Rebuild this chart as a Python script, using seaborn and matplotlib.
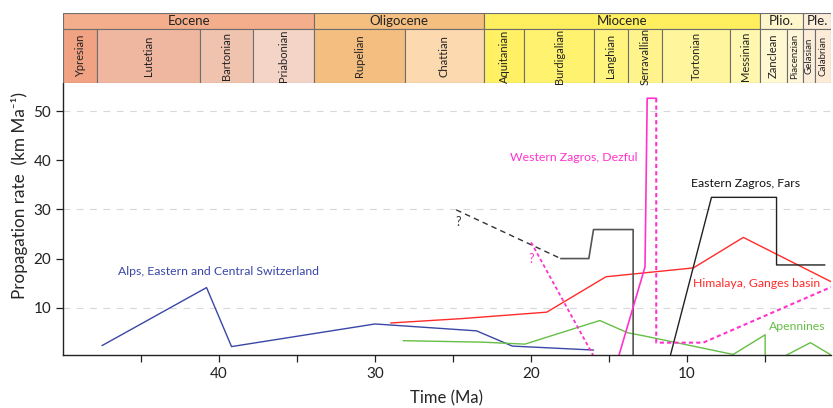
import matplotlib
matplotlib.use('Agg')
import matplotlib.pyplot as plt
import seaborn as sns
from matplotlib.patches import Rectangle

# Data (time in Ma, rate in km/Ma)
alps_t = [47.5, 40.8, 39.2, 30.0, 23.5, 21.2, 16.0]
alps_v = [2.3, 14.1, 2.1, 6.7, 5.3, 2.2, 1.4]

himalaya_t = [29.0, 24.4, 19.0, 15.2, 9.6, 6.4, 0.78]
himalaya_v = [6.9, 7.8, 9.1, 16.3, 18.1, 24.3, 15.3]

apennines_t = [28.2, 23.1, 20.4, 15.6, 13.8, 12.8, 7.05, 5.0, 5.0, 3.85, 2.1, 0.78]
apennines_v = [3.3, 3.0, 2.6, 7.4, 4.9, 4.3, 0.5, 4.5, 0.0, 0.0, 2.9, 0.4]

ez_dash_t = [24.8, 18.1]
ez_dash_v = [29.9, 20.0]
ez1_t = [18.1, 16.3, 16.0, 13.46, 13.46]
ez1_v = [20.0, 20.0, 25.9, 25.9, 0.0]
ez2_t = [11.1, 8.44, 4.27, 4.27, 1.17]
ez2_v = [0.0, 32.45, 32.45, 18.7, 18.7]

wz_t = [14.4, 12.7, 12.56, 11.98]
wz_v = [0.0, 18.3, 52.6, 52.6]
wz_dash_t = [11.98, 11.98, 8.97, 0.78]
wz_dash_v = [52.6, 2.9, 2.9, 14.2]
wz_q_t = [20.0, 16.0]
wz_q_v = [23.3, 0.2]

grid_levels = [10, 30, 50]

epochs = ['Eocene', 'Oligocene', 'Miocene', 'Plio.', 'Ple.']
epoch_bounds = [50, 33.9, 23.03, 5.333, 2.58, 0.78]
epoch_colors = ['#F4AE8B', '#F5BF80', '#FFEE5E', '#FFF6CC', '#FDEEDC']

stages = ['Ypresian', 'Lutetian', 'Bartonian', 'Priabonian', 'Rupelian', 'Chattian',
          'Aquitanian', 'Burdigalian', 'Langhian', 'Serravallian', 'Tortonian',
          'Messinian', 'Zanclean', 'Piacenzian', 'Gelasian', 'Calabrian']
stage_bounds = [50, 47.8, 41.2, 37.8, 33.9, 28.1, 23.03, 20.44, 15.97, 13.82,
                11.63, 7.246, 5.333, 3.6, 2.58, 1.8, 0.78]
stage_colors = ['#F0A283', '#F0B7A0', '#F0C3AF', '#F4D4C6', '#F4BE80', '#FCD9AF',
                '#FFF064', '#FFF26E', '#FFF47E', '#FFF48C', '#FFF59C', '#FFF7AE',
                '#FFF8D0', '#FFF5D8', '#FDEEDC', '#FDEBD8']

sns.set_style('ticks')
plt.rcParams['font.family'] = ['Lato', 'DejaVu Sans']

fig = plt.figure(figsize=(8.33, 4.08), dpi=100)
ax = fig.add_axes([63 / 833, 53 / 408, 768 / 833, 272 / 408])
hx = fig.add_axes([63 / 833, 325 / 408, 768 / 833, 70 / 408])

for g in grid_levels:
    ax.axhline(g, color='#d8d8d8', lw=0.8, ls=(0, (6, 6)), zorder=0)

blue = '#3A47A6'
red = '#FF2B2B'
green = '#66BF45'
pink = '#FF33CC'

def draw(t, v, color, ls='-', lw=1.0):
    sns.lineplot(x=t, y=v, sort=False, estimator=None, color=color,
                 linestyle=ls, lw=lw, ax=ax)

draw(alps_t, alps_v, blue)
draw(himalaya_t, himalaya_v, red)
draw(apennines_t, apennines_v, green)
draw(ez_dash_t, ez_dash_v, '#333333', ls=(0, (4, 3)))
draw(ez1_t, ez1_v, '#555555', lw=1.2)
draw(ez2_t, ez2_v, '#222222')
draw(wz_t, wz_v, pink, lw=1.2)
draw(wz_dash_t, wz_dash_v, pink, ls=(0, (2, 1.5)), lw=1.5)
draw(wz_q_t, wz_q_v, pink, ls=(0, (2, 1.5)), lw=1.3)

lab_fs = 8.8
ax.text(46.5, 17.3, 'Alps, Eastern and Central Switzerland', color=blue, fontsize=lab_fs, va='center')
ax.text(21.35, 40.6, 'Western Zagros, Dezful', color=pink, fontsize=lab_fs, va='center')
ax.text(9.75, 35.2, 'Eastern Zagros, Fars', color='#111111', fontsize=lab_fs, va='center')
ax.text(9.65, 15.0, 'Himalaya, Ganges basin', color=red, fontsize=lab_fs, va='center')
ax.text(4.74, 6.1, 'Apennines', color=green, fontsize=lab_fs, va='center')
ax.text(24.7, 27.5, '?', color='#333333', fontsize=9, va='center', ha='center')
ax.text(20.0, 20.0, '?', color=pink, fontsize=9, va='center', ha='center')

ax.set_xlim(50, 0.78)
ax.set_ylim(0.39, 55.7)
ax.set_xticks([40, 30, 20, 10])
ax.set_xticks([45, 35, 25, 15, 5], minor=True)
ax.set_yticks([10, 20, 30, 40, 50])
ax.tick_params(which='both', direction='out', length=5, width=0.9, labelsize=11,
               colors='#222222', pad=3.5)
sns.despine(ax=ax)
for s in ['left', 'bottom']:
    ax.spines[s].set_color('#222222')
    ax.spines[s].set_linewidth(1.0)
ax.set_xlabel('Time (Ma)', fontsize=12, labelpad=7)
ax.set_ylabel('Propagation rate  (km Ma⁻¹)', fontsize=12.3)
ax.yaxis.set_label_coords(-0.046, 0.585)

# Stratigraphic header
hx.set_xlim(50, 0.78)
hx.set_ylim(0, 70)
hx.axis('off')
for name, a, b, c in zip(epochs, epoch_bounds[:-1], epoch_bounds[1:], epoch_colors):
    hx.add_patch(Rectangle((b, 54), a - b, 16, facecolor=c, edgecolor='#6e6e6e', lw=0.8))
    hx.text((a + b) / 2, 62, name, ha='center', va='center', fontsize=9.5, color='#222222')
for name, a, b, c in zip(stages, stage_bounds[:-1], stage_bounds[1:], stage_colors):
    hx.add_patch(Rectangle((b, 0), a - b, 54, facecolor=c, edgecolor='#6e6e6e', lw=0.8))
    fs = 7 if name in ('Gelasian', 'Calabrian', 'Piacenzian') else 8
    hx.text((a + b) / 2, 27, name, ha='center', va='center', rotation=90,
            fontsize=fs, color='#222222')

fig.savefig('out.png', dpi=100)
